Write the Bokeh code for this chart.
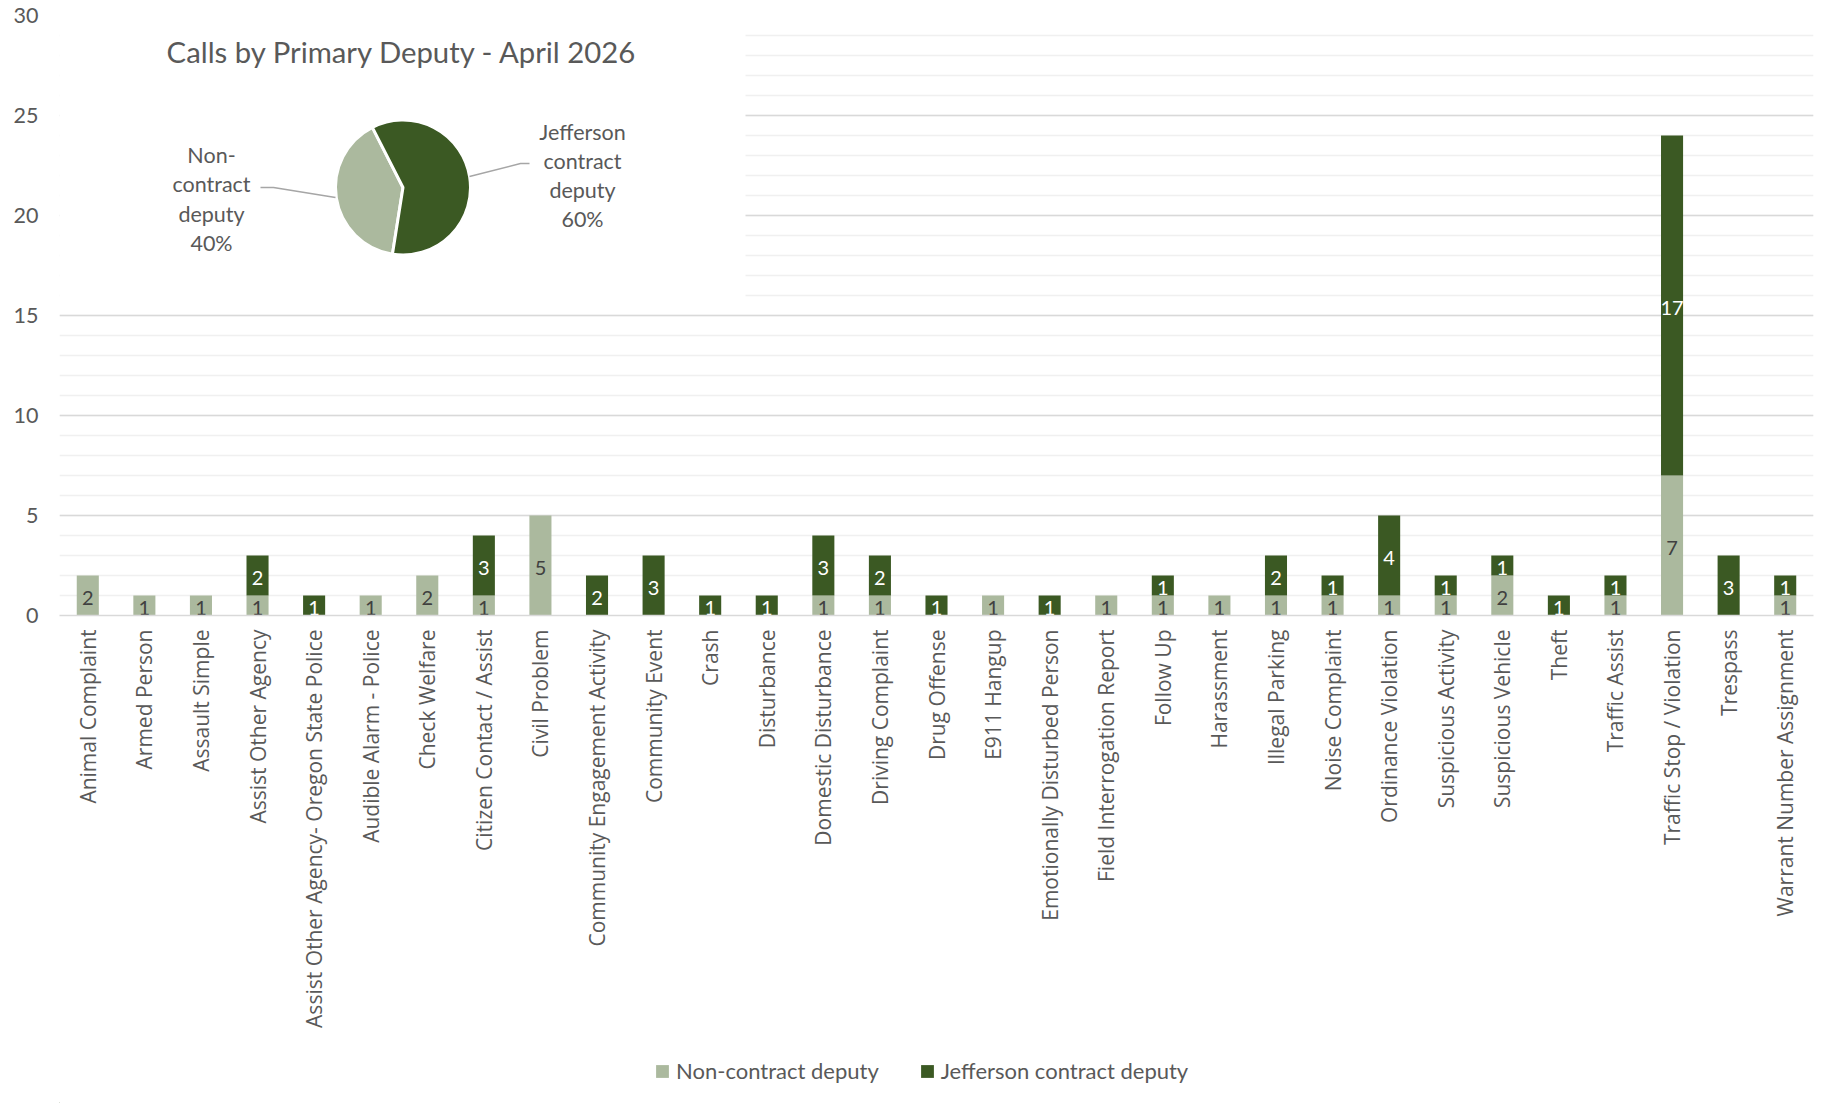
import numpy as np
from bokeh.plotting import figure
from bokeh.layouts import column
from bokeh.models import (ColumnDataSource, Range1d, SingleIntervalTicker, FixedTicker, Legend, LegendItem)
from bokeh.core.properties import value
from bokeh.embed import file_html
from bokeh.resources import INLINE

# ---------------- data ----------------
categories = [
    "Animal Complaint", "Armed Person", "Assault Simple", "Assist Other Agency",
    "Assist Other Agency- Oregon State Police", "Audible Alarm - Police", "Check Welfare",
    "Citizen Contact / Assist", "Civil Problem", "Community Engagement Activity",
    "Community Event", "Crash", "Disturbance", "Domestic Disturbance", "Driving Complaint",
    "Drug Offense", "E911 Hangup", "Emotionally Disturbed Person", "Field Interrogation Report",
    "Follow Up", "Harassment", "Illegal Parking", "Noise Complaint", "Ordinance Violation",
    "Suspicious Activity", "Suspicious Vehicle", "Theft", "Traffic Assist",
    "Traffic Stop / Violation", "Trespass", "Warrant Number Assignment",
]
non_contract = [2, 1, 1, 1, 0, 1, 2, 1, 5, 0, 0, 0, 0, 1, 1, 0, 1, 0, 1, 1, 1, 1, 1, 1, 1, 2, 0, 1, 7, 0, 1]
jefferson    = [0, 0, 0, 2, 1, 0, 0, 3, 0, 2, 3, 1, 1, 3, 2, 1, 0, 1, 0, 1, 0, 2, 1, 4, 1, 1, 1, 1, 17, 3, 1]
series_names = ["Non-contract deputy", "Jefferson contract deputy"]
pie_share = [40, 60]
pie_label_lines = [["Non-", "contract", "deputy", "40%"], ["Jefferson", "contract", "deputy", "60%"]]
title_text = "Calls by Primary Deputy - April 2026"
y_max = 30

# ---------------- style ----------------
LIGHT = "#ABB99E"
DARK = "#3B5923"
GRAY = "#595959"
NUM_FONT = "Lato"
CAT_FONT = "Open Sans"

W, H = 1840, 1045
LH = 58
FL, FT, FW, FH = 59, 15, 1754, 600
PAGE_L, PAGE_B = FL, FT + FH   # frame left / bottom in page pixels
BASE_FIX = 0.41                # baseline correction (fraction of font size)


def PX(x):
    return x - PAGE_L


def PY(y):
    return PAGE_B - y


n = len(categories)
xpos = [i + 0.5 for i in range(n)]

p = figure(width=W, height=H, x_range=Range1d(0, n), y_range=Range1d(0, y_max),
           output_backend="svg", toolbar_location=None,
           min_border_left=FL, min_border_top=FT, min_border_right=W - FL - FW,
           min_border_bottom=H - FT - FH)
p.extra_x_ranges = {"px": Range1d(0, FW)}
p.extra_y_ranges = {"py": Range1d(0, FH)}
p.outline_line_color = None
p.background_fill_color = "white"
p.border_fill_color = "white"

ticker = SingleIntervalTicker(interval=5, num_minor_ticks=5)
p.yaxis.ticker = ticker
p.ygrid.ticker = ticker
p.xgrid.grid_line_color = None
p.ygrid.grid_line_color = "#d9d9d9"
p.ygrid.grid_line_width = 1.5
p.ygrid.minor_grid_line_color = "#f0f0f0"
p.ygrid.minor_grid_line_width = 1.5

p.yaxis.axis_line_color = None
p.yaxis.major_tick_line_color = None
p.yaxis.minor_tick_line_color = None
p.yaxis.major_label_standoff = 15
p.yaxis.major_label_text_font = NUM_FONT
p.yaxis.major_label_text_font_size = "21.5px"
p.yaxis.major_label_text_color = GRAY

p.xaxis.ticker = FixedTicker(ticks=xpos, minor_ticks=[])
p.xaxis.major_label_overrides = {x: c for x, c in zip(xpos, categories)}
p.xaxis.axis_line_color = "#d9d9d9"
p.xaxis.axis_line_width = 1.5
p.xaxis.major_tick_line_color = None
p.xaxis.minor_tick_line_color = None
p.xaxis.major_label_orientation = np.pi / 2
p.xaxis.major_label_standoff = 8
p.xaxis.major_label_text_font = CAT_FONT
p.xaxis.major_label_text_font_size = "21px"
p.xaxis.major_label_text_color = GRAY

# ---------------- bars ----------------
src = ColumnDataSource(dict(x=xpos, non=non_contract, jeff=jefferson))
rs = p.vbar_stack(["non", "jeff"], x="x", width=0.39, color=[LIGHT, DARK], line_color=None, source=src)

lx, ly, lt, lc = [], [], [], []
for i in range(n):
    bottom = 0
    for vals, col in ((non_contract, "#404040"), (jefferson, "white")):
        v = vals[i]
        if v > 0:
            lx.append(xpos[i])
            ly.append(bottom + v / 2)
            lt.append(str(v))
            lc.append(col)
        bottom += v
p.text(x="x", y="y", text="text", text_color="color",
       source=ColumnDataSource(dict(x=lx, y=ly, text=lt, color=lc)),
       text_align="center", text_baseline="middle", y_offset=2,
       text_font=value(NUM_FONT), text_font_size="20px")

# ---------------- inset pie chart ----------------
p.quad(left=[0], right=[PX(745)], top=[FH], bottom=[PY(305)], x_range_name="px", y_range_name="py",
       fill_color="white", line_color=None)

TS = 29.3
p.text(x=[PX(402)], y=[PY(63 - BASE_FIX * TS)], text=[title_text], x_range_name="px", y_range_name="py",
       text_align="center", text_baseline="alphabetic", text_color=GRAY,
       text_font=value(NUM_FONT), text_font_size=f"{TS}px")

first_slice = 189.0
cum = np.concatenate([[0], np.cumsum(pie_share)]) / np.sum(pie_share) * 360.0
start = np.radians(90.0 - (first_slice + cum[:-1]))
end = np.radians(90.0 - (first_slice + cum[1:]))
p.wedge(x=[PX(402.5)] * 2, y=[PY(187)] * 2, radius=67.5, radius_units="screen",
        start_angle=list(start), end_angle=list(end), direction="clock",
        fill_color=[LIGHT, DARK], line_color="white", line_width=3,
        x_range_name="px", y_range_name="py")

p.line(x=[PX(260), PX(273), PX(335)], y=[PY(187), PY(187), PY(197)], line_color="#a6a6a6",
       line_width=1.5, x_range_name="px", y_range_name="py")
p.line(x=[PX(469), PX(520), PX(529)], y=[PY(176), PY(163), PY(163)], line_color="#a6a6a6",
       line_width=1.5, x_range_name="px", y_range_name="py")

LS = 21.5
for lines, cx, y0 in ((pie_label_lines[0], 211, 163.5), (pie_label_lines[1], 582, 140)):
    p.text(x=[PX(cx)] * len(lines),
           y=[PY(y0 + 29.2 * k - BASE_FIX * LS) for k in range(len(lines))], text=lines,
           x_range_name="px", y_range_name="py", text_align="center", text_baseline="alphabetic",
           text_color=GRAY, text_font=value(NUM_FONT), text_font_size=f"{LS}px")

# ---------------- legend (separate strip below the chart) ----------------
lf = figure(width=W, height=LH, x_range=Range1d(0, W), y_range=Range1d(0, LH),
            x_axis_type=None, y_axis_type=None, output_backend="svg", toolbar_location=None,
            min_border=0)
lf.outline_line_color = None
lf.background_fill_color = "white"
lf.border_fill_color = "white"
lr = [lf.vbar(x=[-1000], top=[1], width=1, fill_color=c, line_color=None) for c in (LIGHT, DARK)]
legend = Legend(items=[LegendItem(label=series_names[k], renderers=[lr[k]]) for k in range(2)],
                orientation="horizontal", location=(655 - 60, (H + LH) - 1084),
                glyph_width=16, glyph_height=16, label_standoff=6, spacing=40,
                padding=0, margin=0, border_line_color=None, background_fill_alpha=0,
                label_text_font=NUM_FONT, label_text_font_size="22px", label_text_color=GRAY)
lf.add_layout(legend, "center")

layout = column(p, lf, spacing=0)
open("out.html", "w").write(file_html(layout, INLINE))
